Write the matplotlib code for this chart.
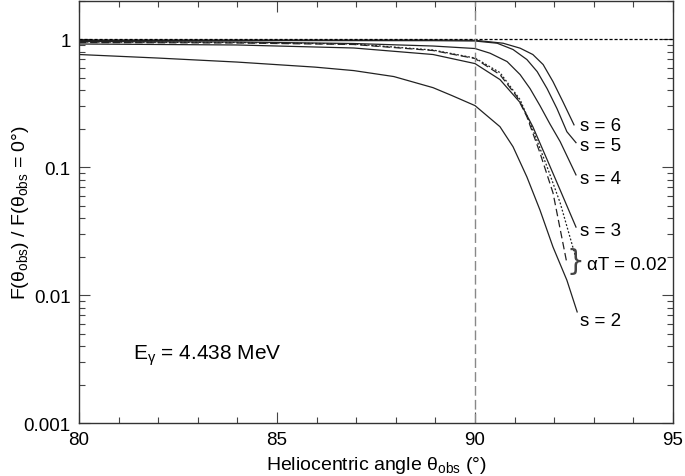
import numpy as np
import matplotlib
matplotlib.use("Agg")
import matplotlib.pyplot as plt
from matplotlib.ticker import FixedLocator, NullFormatter

plt.rcParams['font.family'] = ['Liberation Sans', 'DejaVu Sans']
plt.rcParams['mathtext.fontset'] = 'custom'
plt.rcParams['mathtext.rm'] = 'Liberation Sans'
plt.rcParams['mathtext.it'] = 'Liberation Sans:italic'

# angle (deg) and flux ratio
ang_s6 = [80, 88.94, 90, 90.71, 91.14, 91.46, 91.72, 91.97, 92.22, 92.50]
val_s6 = [0.991, 0.991, 0.986, 0.935, 0.855, 0.763, 0.637, 0.468, 0.326, 0.215]

ang_s5 = [80, 88.94, 90, 90.56, 90.96, 91.31, 91.57, 91.82, 92.07, 92.32, 92.55]
val_s5 = [0.982, 0.979, 0.973, 0.935, 0.835, 0.697, 0.561, 0.413, 0.288, 0.190, 0.156]

ang_s4 = [80, 83.99, 86.94, 88.94, 90, 90.38, 90.81, 91.14, 91.39, 91.64, 91.89, 92.15, 92.55]
val_s4 = [0.964, 0.956, 0.930, 0.889, 0.850, 0.781, 0.672, 0.531, 0.413, 0.304, 0.219, 0.159, 0.0873]

ang_s3 = [80, 83.99, 86.94, 88.94, 90, 90.63, 91.14, 91.46, 91.82, 92.15, 92.55]
val_s3 = [0.922, 0.906, 0.858, 0.763, 0.648, 0.486, 0.321, 0.208, 0.115, 0.0665, 0.0341]

ang_at_dash = [80, 83.99, 86.94, 88.94, 90, 90.63, 91.06, 91.31, 91.64, 91.97, 92.32]
val_at_dash = [0.947, 0.939, 0.914, 0.820, 0.710, 0.531, 0.357, 0.249, 0.130, 0.0631, 0.0178]

ang_at_dot = [80, 83.99, 86.94, 88.94, 90, 90.63, 91.14, 91.46, 91.82, 92.15, 92.55]
val_at_dot = [0.956, 0.947, 0.922, 0.827, 0.716, 0.551, 0.338, 0.197, 0.101, 0.0528, 0.0195]

ang_s2 = [80, 81.99, 83.99, 85.96, 86.94, 87.95, 88.94, 89.42, 90, 90.63, 90.96,
          91.31, 91.64, 91.97, 92.32, 92.58]
val_s2 = [0.763, 0.716, 0.666, 0.608, 0.571, 0.513, 0.420, 0.364, 0.304, 0.208, 0.145,
          0.0842, 0.0464, 0.0238, 0.0131, 0.0074]

s_labels = ["s = 6", "s = 5", "s = 4", "s = 3", "s = 2"]
s_label_y = [0.213, 0.149, 0.082, 0.0318, 0.0063]

yticks = [0.001, 0.01, 0.1, 1]
ytick_labels = ["0.001", "0.01", "0.1", "1"]
xticks = [80, 85, 90, 95]

fig = plt.figure(figsize=(6.85, 4.77), dpi=100)
ax = fig.add_axes([0.1153, 0.111, 0.8672, 0.8848])

lc = "#222222"
lw = 0.9
ax.plot(ang_s6, val_s6, color=lc, lw=lw)
ax.plot(ang_s5, val_s5, color=lc, lw=lw)
ax.plot(ang_s4, val_s4, color=lc, lw=lw)
ax.plot(ang_s3, val_s3, color=lc, lw=lw)
ax.plot(ang_s2, val_s2, color=lc, lw=lw)
ax.plot(ang_at_dash, val_at_dash, color=lc, lw=lw, dashes=(6, 3))
ax.plot(ang_at_dot, val_at_dot, color=lc, lw=lw, dashes=(1.5, 1.5))

ax.axhline(1, color="black", lw=0.9, dashes=(2.5, 1.5))
ax.axvline(90, color="#888888", lw=1.0, dashes=(7, 3))

ax.set_yscale("log")
ax.set_xlim(80, 95)
ax.set_ylim(0.001, 2)

for lab, yv in zip(s_labels, s_label_y):
    ax.text(92.65, yv, lab, fontsize=13.5, va="center", ha="left")
ax.text(92.76, 0.0185, "}", fontsize=20, va="center", ha="right", color="#444444",
        family="DejaVu Sans")
ax.text(92.82, 0.0175, "αT = 0.02", fontsize=13.5, va="center", ha="left")
ax.text(81.36, 0.00345, r"E$_\mathregular{γ}$ = 4.438 MeV", fontsize=15, va="center", ha="left")

ax.set_yticks(yticks)
ax.set_yticklabels(ytick_labels)
ax.yaxis.set_minor_locator(FixedLocator(
    [m * 10.0 ** e for e in range(-3, 1) for m in range(2, 10)]))
ax.yaxis.set_minor_formatter(NullFormatter())
ax.set_xticks(xticks)
ax.set_xticks(np.arange(80, 96, 1), minor=True)

ax.tick_params(which="both", direction="in", top=True, right=True, labelsize=13.5,
               color="#444444", width=0.8)
ax.tick_params(which="major", length=8, pad=6)
ax.tick_params(which="minor", length=4.5)
for sp in ax.spines.values():
    sp.set_linewidth(1.0)
    sp.set_color("#333333")

ax.set_xlabel(r"Heliocentric angle θ$_\mathregular{obs}$ (°)", fontsize=14, labelpad=4)
ax.set_ylabel(r"F(θ$_\mathregular{obs}$) / F(θ$_\mathregular{obs}$ = 0°)", fontsize=14)
ax.yaxis.set_label_coords(-0.081, 0.5)

fig.savefig("out.png", dpi=100)
